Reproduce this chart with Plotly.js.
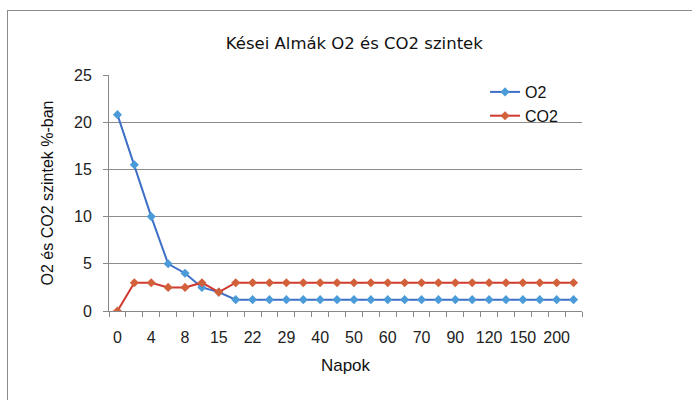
<!DOCTYPE html>
<html><head><meta charset="utf-8">
<script src="https://cdn.plot.ly/plotly-3.0.1.min.js"></script>
<style>
body{margin:0;padding:0;background:#fff;overflow:hidden;}
#wrap{position:relative;width:692px;height:400px;}
#chart{position:absolute;left:0;top:0;width:692px;height:400px;}
#frame{position:absolute;left:7px;top:10px;width:700px;height:400px;border:1px solid #8c8c8c;pointer-events:none;}
</style></head>
<body>
<div id="wrap"><div id="chart"></div><div id="frame"></div></div>
<script>
const days = ['0','2','4','6','8','11','15','18','22','25','29','35','40','45','50','55','60','65','70','80','90','105','120','135','150','175','200','250'];
const o2  = [20.8,15.5,10,5,4,2.5,2,1.2,1.2,1.2,1.2,1.2,1.2,1.2,1.2,1.2,1.2,1.2,1.2,1.2,1.2,1.2,1.2,1.2,1.2,1.2,1.2,1.2];
const co2 = [0,3,3,2.5,2.5,3,2,3,3,3,3,3,3,3,3,3,3,3,3,3,3,3,3,3,3,3,3,3];
const tickText = days.map((d,i)=> i%2===0 ? d : '');

const traces = [
 {x:days,y:o2,name:'O2',type:'scatter',mode:'lines+markers',
  line:{color:'#3d6fc6',width:2},marker:{symbol:'diamond',size:7,color:'#4a9bd8'}},
 {x:days,y:co2,name:'CO2',type:'scatter',mode:'lines+markers',
  line:{color:'#d0392f',width:2},marker:{symbol:'diamond',size:7,color:'#d2603a'}}
];
const layout = {
 width:692,height:400,
 margin:{l:109,r:110,t:75,b:89},
 paper_bgcolor:'rgba(0,0,0,0)',plot_bgcolor:'#fff',
 title:{text:'Kései Almák O2 és CO2 szintek',font:{family:'DejaVu Sans',size:16.5,color:'#111'},x:0.512,xanchor:'center',y:0.892,yanchor:'middle'},
 font:{family:'Liberation Sans',size:16,color:'#222'},
 xaxis:{type:'category',range:[-0.5,27.5],tickmode:'array',tickvals:days,ticktext:tickText,
  tickson:'boundaries',ticks:'outside',ticklen:5,tickcolor:'#888',showgrid:false,
  showline:true,linecolor:'#888',linewidth:1,tickangle:0,ticklabelstandoff:12,
  tickfont:{family:'Liberation Sans',size:16,color:'#222'},
  title:{text:'Napok',font:{family:'Liberation Sans',size:17,color:'#111'},standoff:13}},
 yaxis:{range:[0,25],dtick:5,tick0:0,showgrid:true,gridcolor:'#8c8c8c',gridwidth:1,
  ticks:'outside',ticklen:5,tickcolor:'#888',showline:true,linecolor:'#888',zeroline:false,
  ticklabelstandoff:8,
  tickfont:{family:'Liberation Sans',size:16,color:'#222'},
  title:{text:'O2 és CO2 szintek %-ban',font:{family:'Liberation Sans',size:16,color:'#111'},standoff:16}},
 legend:{x:0.795,y:1.0,xanchor:'left',yanchor:'top',bgcolor:'rgba(0,0,0,0)',
  font:{family:'Liberation Sans',size:16,color:'#111'},tracegroupgap:0},
 showlegend:true
};
Plotly.newPlot('chart',traces,layout,{displayModeBar:false,staticPlot:true});
</script>
</body></html>
